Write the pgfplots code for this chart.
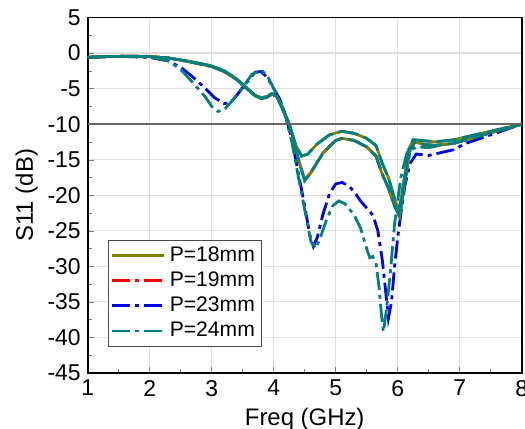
\documentclass[border=0pt]{standalone}
\usepackage{pgfplots}
\pgfplotsset{compat=1.18}
\usepackage{fontspec}
\setmainfont{Liberation Sans}
\definecolor{olv}{RGB}{128,128,0}
\definecolor{tl}{RGB}{0,128,128}
\definecolor{bl}{RGB}{0,0,230}
\definecolor{rd}{RGB}{255,0,0}
\tikzset{ddot/.style={dash pattern=on 9bp off 2.5bp on 2bp off 2.5bp}}
\begin{document}
\begin{tikzpicture}
\begin{axis}[name=ax,
  scale only axis, width=217bp, height=177.75bp,
  xmin=1, xmax=8, ymin=-45, ymax=5,
  xtick={1,...,8}, ytick={-45,-40,...,5},
  minor x tick num=1, minor y tick num=1,
  tick align=inside, tick pos=left,
  major tick length=3bp, minor tick length=2bp,
  grid=major, major grid style={gray!25, line width=0.6pt},
  axis line style={line width=0.9pt},
  font=\fontsize{11}{13}\selectfont,
  tick label style={font=\fontsize{11.5}{13}\selectfont},
  /pgf/number format/assume math mode=true,
  xlabel={Freq (GHz)}, ylabel={S11 (dB)},
  label style={font=\fontsize{12}{14}\selectfont},
  xlabel style={yshift=1bp},
  ylabel style={yshift=-2bp},
  legend style={at={(0.047,0.074)}, anchor=south west, draw=black!70, line width=0.5pt,
    font=\fontsize{10.6}{12}\selectfont, row sep=-0.3bp, inner sep=1.2bp, cells={anchor=west}},
  legend image code/.code={\draw[#1] (0bp,0bp) -- (26bp,0bp);},
]
\addplot[olv, line width=1.4pt] coordinates {
(1.0,-0.6) (1.3,-0.5) (1.7,-0.45) (2.0,-0.5) (2.3,-0.7) (2.6,-1.1) (3.0,-1.8) (3.2,-2.5) (3.4,-3.6) (3.55,-4.8) (3.7,-5.9) (3.8,-6.3) (3.9,-6.1) (3.97,-5.7) (4.05,-6.0) (4.15,-7.8) (4.25,-10) (4.35,-12.8) (4.45,-14.5) (4.55,-14.2) (4.7,-12.8) (4.9,-11.5) (5.1,-11.0) (5.3,-11.3) (5.5,-12.0) (5.65,-13.0) (5.75,-15.5) (5.85,-17.5) (5.95,-20.5) (6.02,-22.3) (6.1,-18) (6.18,-13.5) (6.25,-12.2) (6.4,-12.3) (6.6,-12.5) (6.9,-12.2) (7.2,-11.6) (7.5,-11) (7.8,-10.4) (8,-10)};
\addlegendentry{P=18mm}
\addplot[rd, line width=1.4pt, ddot] coordinates {
(1.0,-0.6) (1.3,-0.5) (1.7,-0.45) (2.0,-0.5) (2.3,-0.7) (2.6,-1.15) (3.0,-1.9) (3.2,-2.6) (3.4,-3.7) (3.55,-4.9) (3.7,-6.0) (3.8,-6.4) (3.9,-6.2) (3.97,-5.8) (4.05,-6.1) (4.15,-8.0) (4.25,-10) (4.3,-11.5) (4.4,-15) (4.5,-17.9) (4.6,-16.8) (4.8,-14) (5.0,-12.3) (5.1,-12.0) (5.3,-12.3) (5.5,-13.2) (5.65,-14.5) (5.75,-17) (5.85,-19) (5.95,-21.5) (6.03,-23.0) (6.1,-19) (6.2,-13.5) (6.28,-12.5) (6.4,-12.8) (6.6,-13.0) (6.9,-12.7) (7.2,-12.0) (7.5,-11.2) (7.8,-10.5) (8,-10)};
\addlegendentry{P=19mm}
\addplot[bl, line width=1.4pt, ddot] coordinates {
(1,-0.6) (1.5,-0.45) (2.0,-0.6) (2.3,-1.1) (2.5,-2.0) (2.7,-3.4) (2.9,-5.0) (3.05,-6.3) (3.2,-7.1) (3.3,-7.0) (3.4,-6.0) (3.55,-4.3) (3.7,-2.7) (3.8,-2.6) (3.9,-3.5) (4.0,-5) (4.1,-6.5) (4.2,-9) (4.3,-12.5) (4.4,-17) (4.5,-21.5) (4.58,-25.5) (4.64,-27.2) (4.7,-26) (4.8,-22.5) (4.9,-19.8) (5.0,-18.4) (5.1,-18.2) (5.2,-18.6) (5.3,-19.5) (5.4,-20.8) (5.5,-21.8) (5.6,-22.8) (5.68,-25) (5.75,-29) (5.8,-33) (5.85,-37.3) (5.9,-35) (5.95,-30) (6.0,-26) (6.06,-22) (6.12,-18.5) (6.2,-15.5) (6.3,-14.2) (6.5,-14.4) (6.7,-14) (6.9,-13.6) (7.1,-12.7) (7.4,-11.8) (7.7,-10.9) (8,-10)};
\addlegendentry{P=23mm}
\addplot[tl, line width=1.4pt, ddot] coordinates {
(1,-0.6) (1.5,-0.45) (2.0,-0.6) (2.3,-1.1) (2.5,-2.3) (2.7,-4.2) (2.9,-6.2) (3.0,-7.5) (3.1,-8.2) (3.2,-8.0) (3.35,-6.5) (3.5,-4.8) (3.65,-3.0) (3.8,-2.4) (3.9,-3.2) (4.0,-5) (4.1,-6.8) (4.2,-9.2) (4.3,-12.8) (4.4,-17.5) (4.5,-22) (4.6,-26.5) (4.68,-27.5) (4.75,-26) (4.85,-23.5) (4.95,-21.5) (5.05,-20.8) (5.15,-21.2) (5.3,-22.8) (5.4,-24.6) (5.5,-27.5) (5.55,-28.8) (5.6,-28.6) (5.65,-29.5) (5.7,-33) (5.74,-37) (5.77,-39.2) (5.82,-36) (5.88,-31) (5.95,-24) (6.05,-17.5) (6.15,-14) (6.3,-13.2) (6.5,-13.3) (6.8,-12.8) (7.1,-12.2) (7.5,-11.2) (8,-10)};
\addlegendentry{P=24mm}
% overlays: olive under, teal dashed over, on both solid curves
\addplot[olv, line width=1.4pt, forget plot] coordinates {
(1.0,-0.6) (1.3,-0.5) (1.7,-0.45) (2.0,-0.5) (2.3,-0.7) (2.6,-1.15) (3.0,-1.9) (3.2,-2.6) (3.4,-3.7) (3.55,-4.9) (3.7,-6.0) (3.8,-6.4) (3.9,-6.2) (3.97,-5.8) (4.05,-6.1) (4.15,-8.0) (4.25,-10) (4.3,-11.5) (4.4,-15) (4.5,-17.9) (4.6,-16.8) (4.8,-14) (5.0,-12.3) (5.1,-12.0) (5.3,-12.3) (5.5,-13.2) (5.65,-14.5) (5.75,-17) (5.85,-19) (5.95,-21.5) (6.03,-23.0) (6.1,-19) (6.2,-13.5) (6.28,-12.5) (6.4,-12.8) (6.6,-13.0) (6.9,-12.7) (7.2,-12.0) (7.5,-11.2) (7.8,-10.5) (8,-10)};
\addplot[tl, line width=1.4pt, dash pattern=on 10bp off 3bp, forget plot] coordinates {
(1.0,-0.6) (1.3,-0.5) (1.7,-0.45) (2.0,-0.5) (2.3,-0.7) (2.6,-1.1) (3.0,-1.8) (3.2,-2.5) (3.4,-3.6) (3.55,-4.8) (3.7,-5.9) (3.8,-6.3) (3.9,-6.1) (3.97,-5.7) (4.05,-6.0) (4.15,-7.8) (4.25,-10) (4.35,-12.8) (4.45,-14.5) (4.55,-14.2) (4.7,-12.8) (4.9,-11.5) (5.1,-11.0) (5.3,-11.3) (5.5,-12.0) (5.65,-13.0) (5.75,-15.5) (5.85,-17.5) (5.95,-20.5) (6.02,-22.3) (6.1,-18) (6.18,-13.5) (6.25,-12.2) (6.4,-12.3) (6.6,-12.5) (6.9,-12.2) (7.2,-11.6) (7.5,-11) (7.8,-10.4) (8,-10)};
\addplot[tl, line width=1.4pt, dash pattern=on 10bp off 3bp, dash phase=5bp, forget plot] coordinates {
(1.0,-0.6) (1.3,-0.5) (1.7,-0.45) (2.0,-0.5) (2.3,-0.7) (2.6,-1.15) (3.0,-1.9) (3.2,-2.6) (3.4,-3.7) (3.55,-4.9) (3.7,-6.0) (3.8,-6.4) (3.9,-6.2) (3.97,-5.8) (4.05,-6.1) (4.15,-8.0) (4.25,-10) (4.3,-11.5) (4.4,-15) (4.5,-17.9) (4.6,-16.8) (4.8,-14) (5.0,-12.3) (5.1,-12.0) (5.3,-12.3) (5.5,-13.2) (5.65,-14.5) (5.75,-17) (5.85,-19) (5.95,-21.5) (6.03,-23.0) (6.1,-19) (6.2,-13.5) (6.28,-12.5) (6.4,-12.8) (6.6,-13.0) (6.9,-12.7) (7.2,-12.0) (7.5,-11.2) (7.8,-10.5) (8,-10)};
\addplot[black!60, line width=0.9pt, forget plot] coordinates {(1,-10) (8,-10)};
\end{axis}
\pgfresetboundingbox
\path ([xshift=-43.85bp,yshift=-28bp]ax.south west) rectangle ([xshift=1.65bp,yshift=8.75bp]ax.north east);
\end{tikzpicture}
\end{document}
